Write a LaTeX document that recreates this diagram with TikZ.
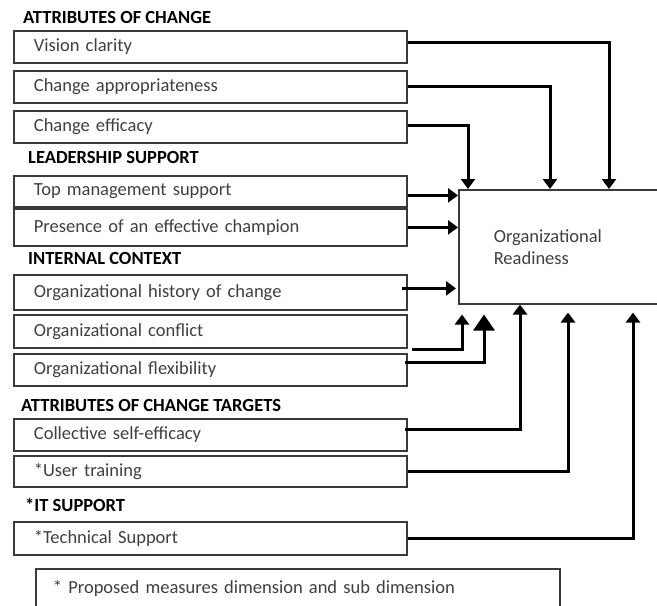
\documentclass[tikz,border=0pt]{standalone}
\usepackage{fontspec}
\setmainfont{Carlito}
\usepackage{tikz}
\usetikzlibrary{calc,positioning,arrows.meta,shapes}
\definecolor{boxgray}{HTML}{3A3A3A}
\definecolor{textgray}{HTML}{3F3F3F}

\begin{document}
\begin{tikzpicture}[
x=1pt,y=-1pt,
>={Triangle[length=10pt,width=14pt]},
font=\fontsize{18.5}{22}\selectfont,
item/.style={
	draw=boxgray,
	line width=1.8pt,
	anchor=north west,
	minimum width=393pt,
	inner xsep=20pt,
	text width=353pt,
	align=left,
	text=textgray
},
heading/.style={
	anchor=west,
	inner sep=0pt,
	font=\fontsize{18.5}{22}\selectfont\bfseries
},
flow/.style={
	->,
	line width=3pt
},
bigtip/.style={
	-{Triangle[length=16pt,width=21pt]}
}
]
\useasboundingbox (0,0) rectangle (657,606);
\clip (0,0) rectangle (657,606);

\foreach \n/\x/\y/\txt in {h1/23/17/ATTRIBUTES OF CHANGE, h2/28/157/LEADERSHIP SUPPORT,
	h3/28/258/INTERNAL CONTEXT, h4/21/405/ATTRIBUTES OF CHANGE TARGETS, h5/25/505/*IT SUPPORT}
\node[heading] (\n) at (\x,\y) {\txt};

\foreach \n/\y/\h/\txt in {vis/30/32/Vision clarity, app/70/32/Change appropriateness,
	eff/110/32/Change efficacy, top/175/31/Top management support,
	pres/208/37/Presence of an effective champion, hist/274/35/Organizational history of change,
	conf/314/33/Organizational conflict, flex/353/32/Organizational flexibility,
	coll/418/32/Collective self-efficacy, user/455/31/*User training,
	tech/521/33/*Technical Support}
\node[item,minimum height=\h] (\n) at (13,\y) {\txt};

\node[draw=boxgray,line width=1.5pt,anchor=north west,minimum width=230pt,minimum height=114pt,
	inner xsep=35pt,text width=160pt,align=left,text=textgray] (ready) at (458,189)
	{Organizational\\Readiness};

\node[draw=boxgray,line width=1.8pt,anchor=north west,minimum width=524pt,minimum height=40pt,
	inner xsep=17pt,text width=490pt,align=left,text=textgray] (note) at (35,568)
	{* Proposed measures dimension and sub dimension};

\draw[flow] ($(vis.east)+(0,-4)$) -| ($(ready.north west)+(151,0)$);
\draw[flow] (app.east) -| ($(ready.north west)+(92,0)$);
\draw[flow] ($(eff.east)+(0,-1)$) -| ($(ready.north west)+(10,0)$);
\draw[flow] ($(top.east)+(0,4)$) -- ($(top.east -| ready.west)+(0,4)$);
\draw[flow] (pres.east) -- (pres.east -| ready.west);
\draw[flow] ($(hist.east)+(-6,-4)$) -- ($(hist.east -| ready.west)+(-2,-4)$);
\draw[flow,shorten >=10pt] ($(conf.south east)+(4,1)$) -| ($(ready.south west)+(4,0)$);
\draw[flow,bigtip,shorten >=10pt] ($(flex.east)+(-3,-7)$) -| ($(ready.south west)+(26,0)$);
\draw[flow] ($(coll.east)+(-3,-5)$) -| ($(ready.south west)+(62,0)$);
\draw[flow,shorten >=8pt] (user.east) -| ($(ready.south west)+(110,0)$);
\draw[flow,shorten >=8pt] (tech.east) -| ($(ready.south west)+(175,0)$);
\end{tikzpicture}
\end{document}
